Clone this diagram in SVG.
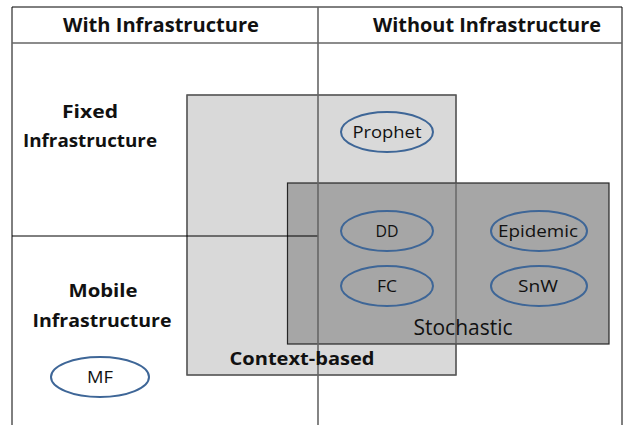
<svg xmlns="http://www.w3.org/2000/svg" width="629" height="425" viewBox="0 0 629 425">
  <style>
    .t { font-family: "Open Sans", "Liberation Sans", Arial, sans-serif; fill: #111; text-anchor: middle; }
    .b { font-weight: bold; }
    .hdr { font-size: 19.5px; }
    .row { font-size: 18px; }
    .lbl { font-size: 17px; }
    .oval { fill: none; stroke: #3e6697; stroke-width: 2; }
    .frame { stroke: #000; stroke-width: 1; fill: none; }
  </style>

  <rect width="629" height="425" fill="#fff"/>

  <!-- category regions -->
  <g id="context-based">
    <rect x="187" y="95" width="269" height="280" fill="#d9d9d9" stroke="#595959" stroke-width="1.2"/>
  </g>
  <g id="stochastic">
    <rect x="287.5" y="183" width="321.5" height="161" fill="#a6a6a6" stroke="#262626" stroke-width="1.2"/>
  </g>
  <!-- outline of the context-based region stays visible over the stochastic one -->
  <rect x="187" y="95" width="269" height="280" fill="none" stroke="#595959" stroke-width="1.2"/>

  <!-- table grid -->
  <g id="grid">
    <line class="frame" x1="12" y1="7" x2="622" y2="7"/>
    <line class="frame" x1="12" y1="7" x2="12" y2="425"/>
    <line class="frame" x1="622" y1="7" x2="622" y2="425"/>
    <line x1="12" y1="43" x2="622" y2="43" stroke="#666" stroke-width="1.5"/>
    <line class="frame" x1="12" y1="236" x2="318" y2="236"/>
    <line x1="318" y1="7" x2="318" y2="425" stroke="#666" stroke-width="1.6"/>
  </g>

  <!-- headings -->
  <g id="headers">
    <text class="t b hdr" x="161" y="32" textLength="196" lengthAdjust="spacingAndGlyphs">With Infrastructure</text>
    <text class="t b hdr" x="487" y="32" textLength="228" lengthAdjust="spacingAndGlyphs">Without Infrastructure</text>
    <text class="t b row" x="90" y="118" textLength="56" lengthAdjust="spacingAndGlyphs">Fixed</text>
    <text class="t b row" x="90" y="147" textLength="134" lengthAdjust="spacingAndGlyphs">Infrastructure</text>
    <text class="t b row" x="103" y="297" textLength="69" lengthAdjust="spacingAndGlyphs">Mobile</text>
    <text class="t b row" x="102" y="327" textLength="139" lengthAdjust="spacingAndGlyphs">Infrastructure</text>
    <text class="t b row" x="302" y="365" textLength="145" lengthAdjust="spacingAndGlyphs">Context-based</text>
    <text class="t" x="463" y="335" font-size="21" textLength="99" lengthAdjust="spacingAndGlyphs">Stochastic</text>
  </g>

  <!-- protocols -->
  <g id="prophet">
    <ellipse class="oval" cx="387" cy="132" rx="46" ry="20"/>
    <text class="t lbl" x="387" y="138" textLength="69" lengthAdjust="spacingAndGlyphs">Prophet</text>
  </g>
  <g id="dd">
    <ellipse class="oval" cx="387" cy="231" rx="46" ry="20"/>
    <text class="t lbl" x="387" y="237" textLength="23" lengthAdjust="spacingAndGlyphs">DD</text>
  </g>
  <g id="fc">
    <ellipse class="oval" cx="387" cy="286" rx="46" ry="20"/>
    <text class="t lbl" x="387" y="292" textLength="20" lengthAdjust="spacingAndGlyphs">FC</text>
  </g>
  <g id="epidemic">
    <ellipse class="oval" cx="539" cy="231" rx="48" ry="20"/>
    <text class="t lbl" x="538" y="237" textLength="80" lengthAdjust="spacingAndGlyphs">Epidemic</text>
  </g>
  <g id="snw">
    <ellipse class="oval" cx="539" cy="286" rx="48" ry="20"/>
    <text class="t lbl" x="538" y="292" textLength="40" lengthAdjust="spacingAndGlyphs">SnW</text>
  </g>
  <g id="mf">
    <ellipse class="oval" cx="100" cy="377" rx="49" ry="20"/>
    <text class="t lbl" x="100" y="383" textLength="26" lengthAdjust="spacingAndGlyphs">MF</text>
  </g>
</svg>
